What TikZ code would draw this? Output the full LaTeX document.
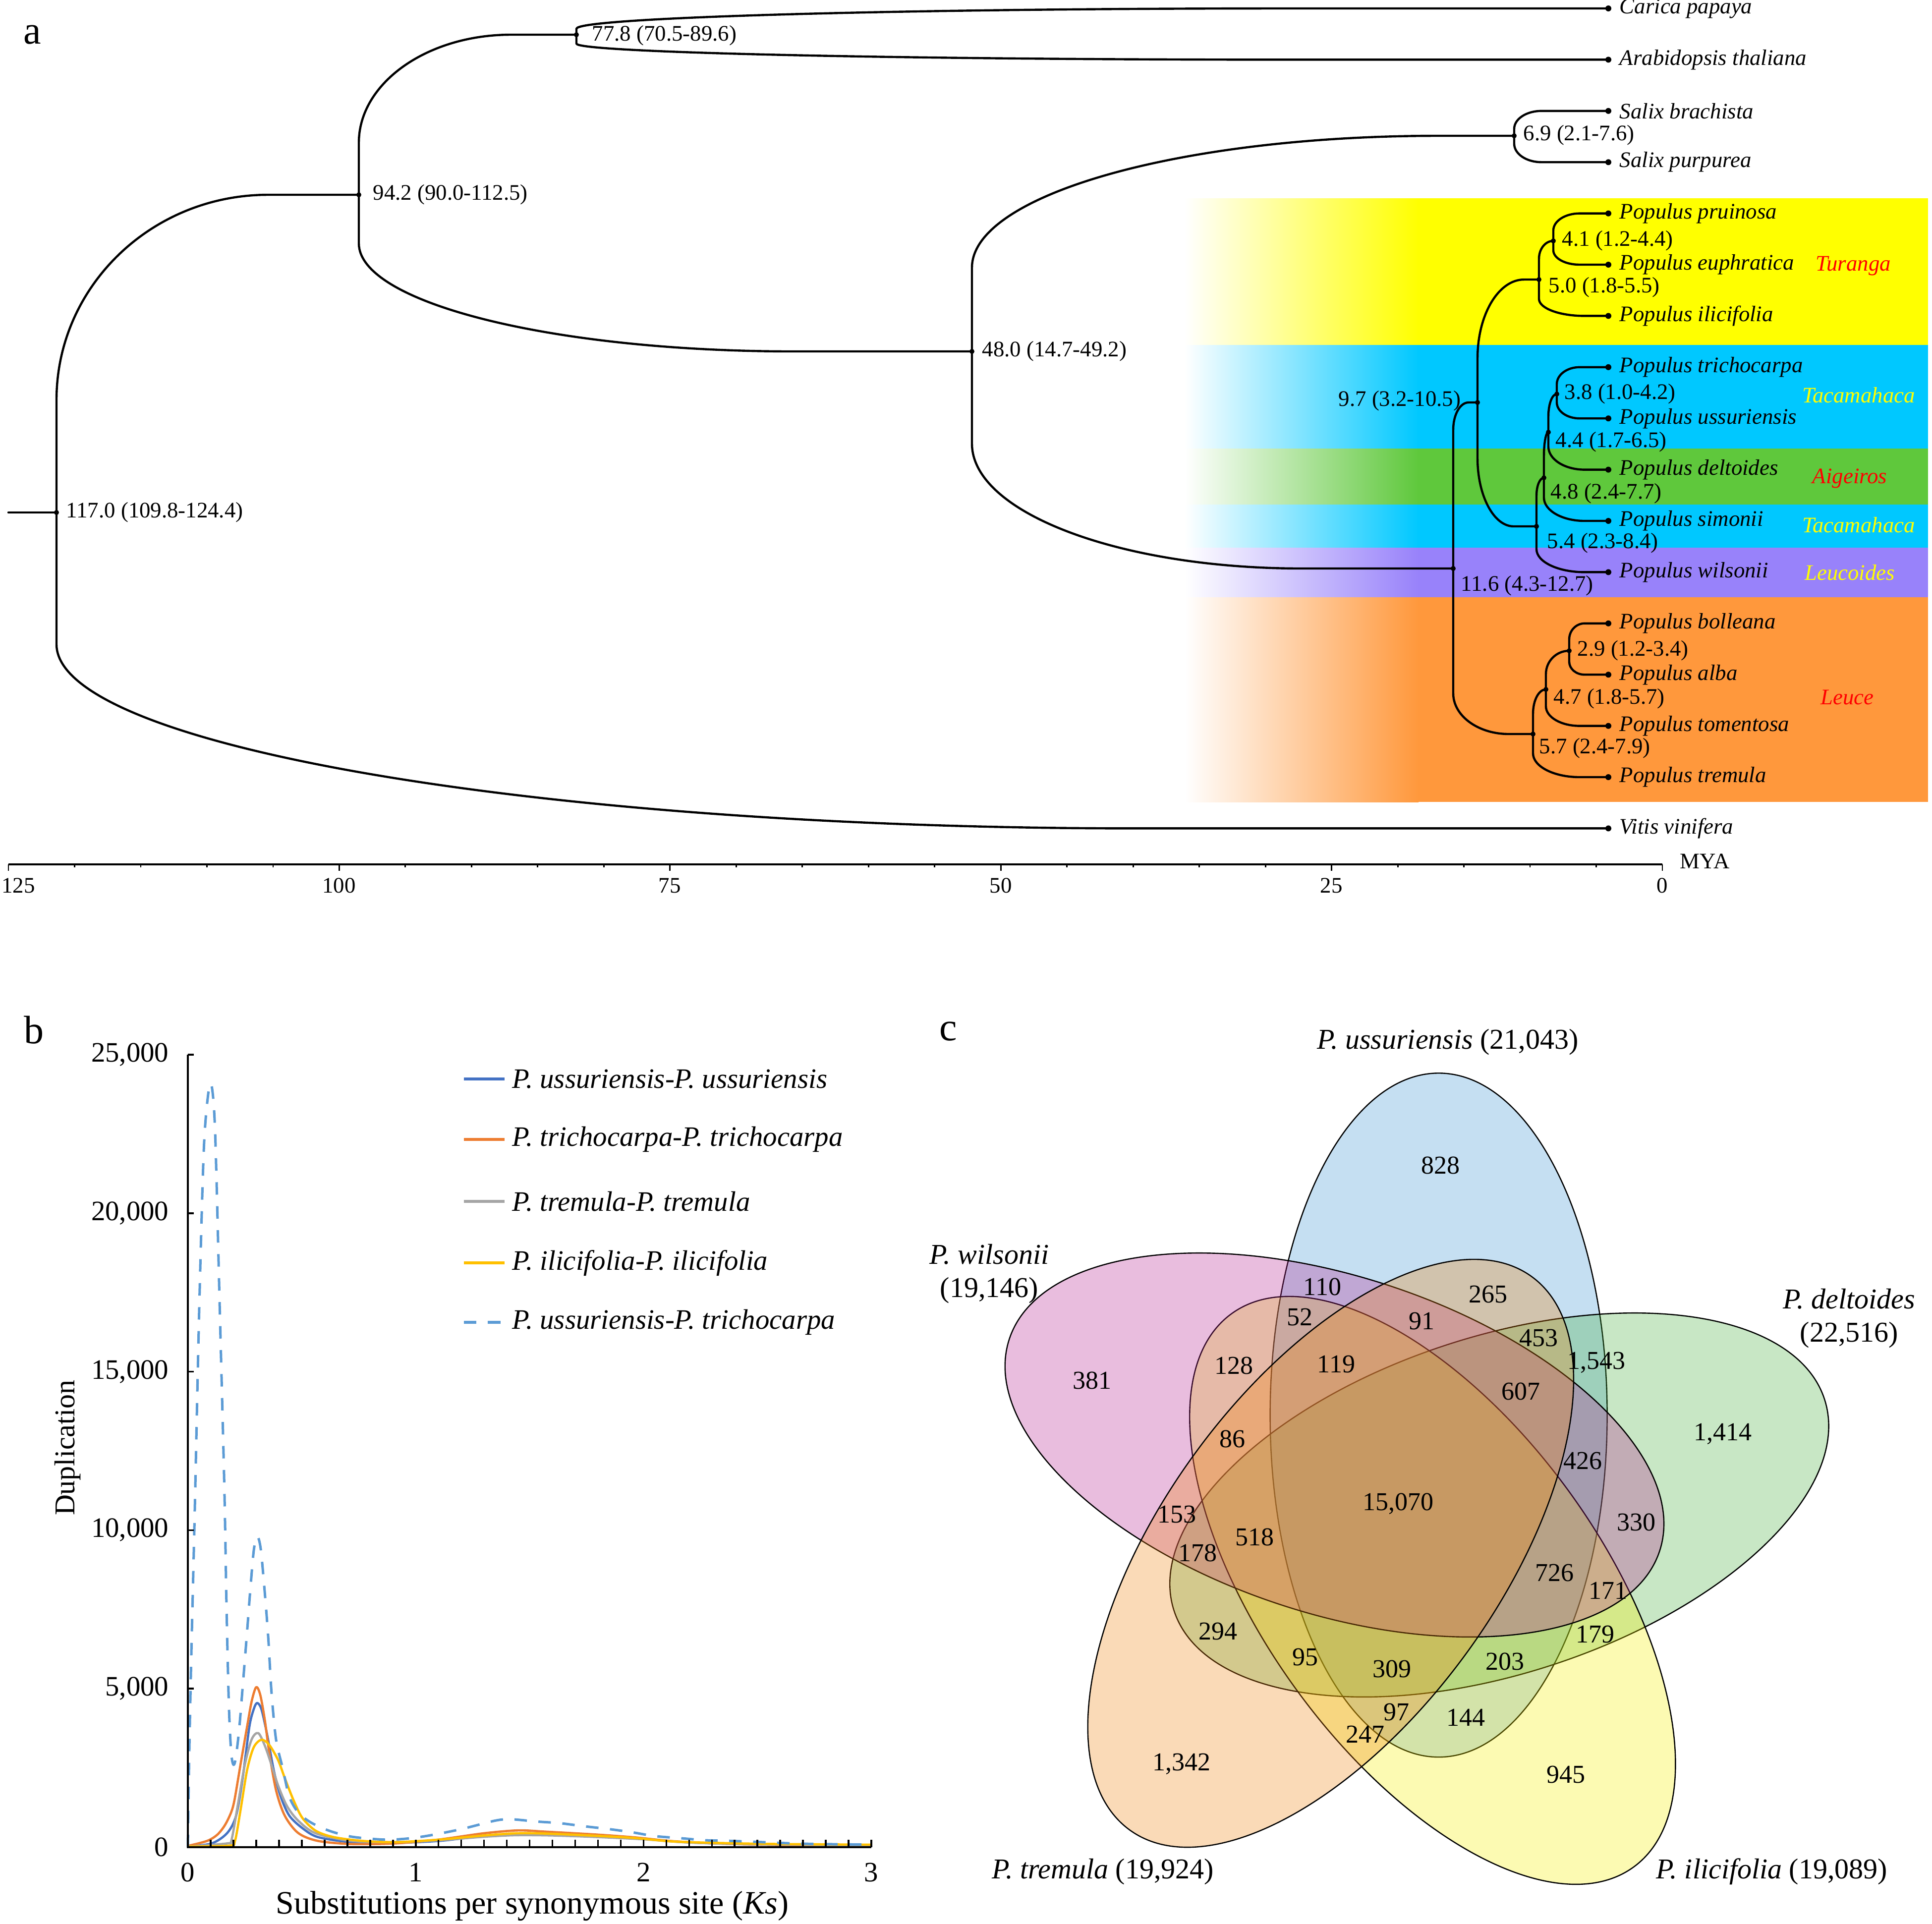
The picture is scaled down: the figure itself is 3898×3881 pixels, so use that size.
\documentclass[tikz,border=0pt]{standalone}
\usepackage{fontspec}
\setmainfont{Liberation Serif}
\usetikzlibrary{calc}
\definecolor{bandY}{RGB}{255,255,0}
\definecolor{bandB}{RGB}{0,200,255}
\definecolor{bandG}{RGB}{95,200,60}
\definecolor{bandP}{RGB}{152,130,250}
\definecolor{bandO}{RGB}{255,152,60}
\definecolor{xlBlue}{RGB}{68,114,196}
\definecolor{xlOrange}{RGB}{237,125,49}
\definecolor{xlGray}{RGB}{165,165,165}
\definecolor{xlGold}{RGB}{255,192,0}
\definecolor{xlLight}{RGB}{91,155,213}
\definecolor{vBlue}{RGB}{62,148,212}
\definecolor{vPink}{RGB}{182,38,145}
\definecolor{vGreen}{RGB}{72,175,62}
\definecolor{vYellow}{RGB}{245,238,0}
\definecolor{vOrange}{RGB}{238,132,15}
\definecolor{cladeRed}{RGB}{255,0,0}
\definecolor{cladeYel}{RGB}{255,255,0}
\newcommand\treebr[4]{%
  \draw[treeline] (#1) -- (#1 |- 0,#3)
    .. controls ($(#1 |- 0,#3)!0.552!(#1 |- #2)$) and ($(#4,0 |- #2)!0.552!(#1 |- #2)$)
    .. (#4,0 |- #2) -- (#2);}
\tikzset{
  treeline/.style={line width=1.1pt, line cap=round, line join=round},
  agelab/.style={anchor=west, inner sep=0pt, font=\fontsize{11.2}{13}\selectfont},
  tiplab/.style={anchor=west, inner sep=0pt, font=\fontsize{11.2}{13}\selectfont\itshape},
  cladelab/.style={inner sep=0pt, font=\fontsize{11.2}{13}\selectfont\itshape},
  ticklab/.style={inner sep=0pt, font=\fontsize{11.2}{13}\selectfont},
  panlab/.style={inner sep=0pt, font=\fontsize{20}{24}\selectfont},
  bnum/.style={inner sep=0pt, font=\fontsize{14.2}{17}\selectfont},
  legtxt/.style={anchor=west, inner sep=0pt, font=\fontsize{14.2}{16}\selectfont\itshape},
  vnum/.style={inner sep=0pt, font=\fontsize{13}{15}\selectfont},
  setlab/.style={inner sep=0pt, align=center, font=\fontsize{14.5}{16.75}\selectfont},
  vennset/.style={fill opacity=0.3, draw=black, line width=0.6pt},
  curve/.style={line width=1.15pt, line join=round, smooth, tension=0.5},
}
\begin{document}
\begin{tikzpicture}[x=0.25pt, y=-0.25pt]
\useasboundingbox (0,0) rectangle (3898,3881);
% ---------------- panel a : bands
\foreach \col/\ya/\yb in {bandY/400/696, bandB/696/905, bandG/905/1018, bandB/1018/1105, bandP/1105/1205, bandO/1205/1618} {
  \shade[left color=white, right color=\col] (2390,\ya) rectangle (2862,\yb);
  \fill[\col] (2860,\ya) rectangle (3890,\yb);
}
% ---------------- panel a : tree coordinates
\coordinate (rootin) at (17,1034);
\coordinate (root) at (114,1034);
\coordinate (n94) at (724,393);
\coordinate (n78) at (1163,70);
\coordinate (n48) at (1961,709);
\coordinate (n69) at (3055,274);
\coordinate (n116) at (2932,1147);
\coordinate (n97) at (2981,812);
\coordinate (n50) at (3105,564);
\coordinate (n41) at (3134,486);
\coordinate (n54) at (3100,1062);
\coordinate (n48b) at (3115,964);
\coordinate (n44) at (3124,872);
\coordinate (n38) at (3141,795);
\coordinate (n57) at (3093,1481);
\coordinate (n47) at (3119,1391);
\coordinate (n29) at (3166,1313);
\foreach \nm/\i in {tCar/0,tAra/1,tSbr/2,tSpu/3,tPpr/4,tPeu/5,tPil/6,tPtr/7,tPus/8,tPde/9,tPsi/10,tPwi/11,tPbo/12,tPal/13,tPto/14,tPtm/15,tVit/16}
  \coordinate (\nm) at (3245,{17+103.4*\i});
% branches
\draw[treeline] (rootin) -- (root);
\treebr{root}{n94}{807}{541}
\treebr{root}{tVit}{1300}{2290}
\treebr{n94}{n78}{288}{1031}
\treebr{n94}{n48}{491}{1600}
\treebr{n78}{tCar}{58}{2600}
\treebr{n78}{tAra}{88}{2600}
\treebr{n48}{n69}{540}{2900}
\treebr{n48}{n116}{895}{2626}
\treebr{n69}{tSbr}{260}{3110}
\treebr{n69}{tSpu}{290}{3110}
\treebr{n116}{n97}{867}{2963}
\treebr{n116}{n57}{1399}{3044}
\treebr{n97}{n50}{723}{3075}
\treebr{n97}{n54}{924}{3054}
\treebr{n50}{n41}{522}{3134}
\treebr{n50}{tPil}{603}{3197}
\treebr{n41}{tPpr}{465}{3187}
\treebr{n41}{tPeu}{505}{3187}
\treebr{n54}{n48b}{1000}{3115}
\treebr{n54}{tPwi}{1108}{3197}
\treebr{n48b}{n44}{920}{3124}
\treebr{n48b}{tPsi}{1004}{3197}
\treebr{n44}{n38}{840}{3141}
\treebr{n44}{tPde}{901}{3197}
\treebr{n38}{tPtr}{775}{3187}
\treebr{n38}{tPus}{812}{3187}
\treebr{n57}{n47}{1440}{3119}
\treebr{n57}{tPtm}{1520}{3187}
\treebr{n47}{n29}{1360}{3166}
\treebr{n47}{tPto}{1425}{3187}
\treebr{n29}{tPbo}{1290}{3197}
\treebr{n29}{tPal}{1335}{3197}
% dots
\foreach \nm in {root,n94,n78,n48,n69,n116,n97,n50,n41,n54,n48b,n44,n38,n57,n47,n29}
  \fill (\nm) circle[radius=5];
\foreach \nm in {tCar,tAra,tSbr,tSpu,tPpr,tPeu,tPil,tPtr,tPus,tPde,tPsi,tPwi,tPbo,tPal,tPto,tPtm,tVit}
  \fill (\nm) circle[radius=6];
% tip labels
\foreach \nm/\txt in {tCar/Carica papaya, tAra/Arabidopsis thaliana, tSbr/Salix brachista, tSpu/Salix purpurea, tPpr/Populus pruinosa, tPeu/Populus euphratica, tPil/Populus ilicifolia, tPtr/Populus trichocarpa, tPus/Populus ussuriensis, tPde/Populus deltoides, tPsi/Populus simonii, tPwi/Populus wilsonii, tPbo/Populus bolleana, tPal/Populus alba, tPto/Populus tomentosa, tPtm/Populus tremula, tVit/Vitis vinifera}
  \node[tiplab] (l\nm) at ([xshift=5.5pt]\nm) {\txt};
% age labels
\node[agelab] (a117) at (133,1034) {117.0 (109.8-124.4)};
\node[agelab] (a94) at (752,393) {94.2 (90.0-112.5)};
\node[agelab] (a78) at (1194,72) {77.8 (70.5-89.6)};
\node[agelab] (a48) at (1981,709) {48.0 (14.7-49.2)};
\node[agelab] (a69) at (3073,273) {6.9 (2.1-7.6)};
\node[agelab] (a41) at (3151,486) {4.1 (1.2-4.4)};
\node[agelab] (a50) at (3124,580) {5.0 (1.8-5.5)};
\node[agelab, anchor=east] (a97) at (2948,809) {9.7 (3.2-10.5)};
\node[agelab] (a38) at (3156,795) {3.8 (1.0-4.2)};
\node[agelab] (a44) at (3138,892) {4.4 (1.7-6.5)};
\node[agelab] (a48b) at (3128,996) {4.8 (2.4-7.7)};
\node[agelab] (a54) at (3121,1096) {5.4 (2.3-8.4)};
\node[agelab] (a116) at (2947,1182) {11.6 (4.3-12.7)};
\node[agelab] (a29) at (3182,1313) {2.9 (1.2-3.4)};
\node[agelab] (a47) at (3134,1410) {4.7 (1.8-5.7)};
\node[agelab] (a57) at (3105,1510) {5.7 (2.4-7.9)};
% clade labels
\node[cladelab, text=cladeRed] (cTur) at (3739,537) {Turanga};
\node[cladelab, text=cladeYel] (cTac1) at (3750,797) {Tacamahaca};
\node[cladelab, text=cladeRed] (cAig) at (3732,965) {Aigeiros};
\node[cladelab, text=cladeYel] (cTac2) at (3750,1059) {Tacamahaca};
\node[cladelab, text=cladeYel] (cLeu) at (3732,1155) {Leucoides};
\node[cladelab, text=cladeRed] (cLce) at (3727,1407) {Leuce};
% time axis
\draw[line width=1.2pt] (17,1744) -- (3354,1744);
\foreach \i in {0,...,25} {
  \pgfmathsetmacro\tx{17+133.48*\i}
  \pgfmathtruncatemacro\md{mod(\i,5)}
  \ifnum\md=0 \draw[line width=0.7pt] (\tx,1744) -- (\tx,1757); \else \draw[line width=0.7pt] (\tx,1744) -- (\tx,1750); \fi
}
\node[ticklab] (m125) at (37,1787) {125};
\node[ticklab] (m100) at (684,1787) {100};
\node[ticklab] (m75) at (1351,1787) {75};
\node[ticklab] (m50) at (2019,1787) {50};
\node[ticklab] (m25) at (2686,1787) {25};
\node[ticklab] (m0) at (3354,1787) {0};
\node[ticklab, anchor=west] (mya) at (3389,1738) {MYA};
\node[panlab] (pa) at (65,70) {a};
% ---------------- panel b
\node[panlab] (pb) at (69,2078) {b};
\begin{scope}[shift={(379,3727)}]
 \begin{scope}[x=114.925pt, y=15.99pt]
  \draw[curve, xlBlue] plot coordinates {(0,0.02) (0.105,0.12) (0.173,0.45) (0.212,1.0) (0.241,2.2) (0.27,3.8) (0.289,4.35) (0.304,4.55) (0.323,4.35) (0.348,3.55) (0.377,2.43) (0.406,1.63) (0.445,1.0) (0.503,0.6) (0.571,0.32) (0.717,0.16) (0.911,0.14) (1.105,0.2) (1.3,0.36) (1.445,0.42) (1.6,0.4) (1.8,0.34) (2.0,0.26) (2.2,0.15) (2.5,0.09) (3.0,0.05)};
  \draw[curve, xlOrange] plot coordinates {(0,0.04) (0.085,0.2) (0.13,0.4) (0.163,0.7) (0.19,1.1) (0.205,1.5) (0.231,2.6) (0.26,3.8) (0.28,4.6) (0.3,5.05) (0.318,4.8) (0.338,4.0) (0.357,3.0) (0.387,1.8) (0.425,1.0) (0.484,0.45) (0.57,0.2) (0.72,0.1) (0.91,0.12) (1.1,0.24) (1.3,0.44) (1.45,0.53) (1.57,0.49) (1.79,0.4) (1.96,0.31) (2.13,0.19) (2.35,0.11) (2.6,0.07) (3.0,0.05)};
  \draw[curve, xlGray] plot coordinates {(0,0.02) (0.173,0.12) (0.192,0.24) (0.221,1.4) (0.25,2.6) (0.28,3.4) (0.309,3.6) (0.338,3.2) (0.367,2.6) (0.396,1.95) (0.435,1.3) (0.484,0.84) (0.561,0.44) (0.717,0.2) (0.911,0.16) (1.1,0.22) (1.3,0.33) (1.445,0.38) (1.6,0.37) (1.8,0.32) (2.0,0.25) (2.2,0.15) (2.5,0.09) (3.0,0.06)};
  \draw[curve, xlGold] plot coordinates {(0,0.02) (0.183,0.05) (0.207,0.2) (0.231,1.16) (0.26,2.43) (0.289,3.15) (0.323,3.39) (0.357,3.23) (0.396,2.75) (0.425,2.19) (0.464,1.48) (0.503,0.92) (0.561,0.52) (0.639,0.32) (0.765,0.2) (0.911,0.16) (1.105,0.24) (1.3,0.37) (1.445,0.44) (1.57,0.43) (1.79,0.36) (1.96,0.29) (2.13,0.18) (2.35,0.13) (2.6,0.1) (3.0,0.08)};
  \draw[curve, xlLight, line width=1.25pt, dash pattern=on 6.3pt off 5.8pt] plot coordinates {(0,0) (0.005,2.5) (0.015,6) (0.03,10.5) (0.05,17) (0.07,22) (0.09,23.8) (0.105,24) (0.12,22.5) (0.14,17) (0.16,11.4) (0.17,7.5) (0.18,4.5) (0.19,3.0) (0.2,2.6) (0.21,2.8) (0.225,3.7) (0.24,5.0) (0.26,6.8) (0.275,8.2) (0.29,9.4) (0.305,9.8) (0.32,9.4) (0.338,8.0) (0.353,6.6) (0.367,4.9) (0.387,3.4) (0.416,2.5) (0.445,1.6) (0.484,1.1) (0.54,0.78) (0.62,0.52) (0.72,0.33) (0.86,0.24) (0.96,0.27) (1.06,0.37) (1.2,0.57) (1.35,0.84) (1.42,0.88) (1.53,0.81) (1.63,0.76) (1.74,0.66) (1.85,0.57) (1.95,0.47) (2.05,0.35) (2.17,0.28) (2.27,0.22) (2.38,0.2) (2.49,0.17) (2.7,0.11) (3.0,0.08)};
 \end{scope}
\end{scope}
% axes b
\draw[line width=0.9pt] (379,2128) -- (379,3727) -- (1758,3727);
\foreach \k in {1,...,5} \draw[line width=0.9pt] (379,{3727-319.8*\k}) -- (391,{3727-319.8*\k});
\foreach \k in {1,...,30} \draw[line width=0.9pt] ({379+45.97*\k},3727) -- ({379+45.97*\k},3712);
\foreach \v/\k in {0/0, {5,000}/1, {10,000}/2, {15,000}/3, {20,000}/4, {25,000}/5}
  \node[bnum, anchor=east] (yl\k) at (341,{3727-319.8*\k}) {\v};
\foreach \k in {0,1,2,3}
  \node[bnum] (xl\k) at ({379+459.7*\k},3778) {\k};
\node[inner sep=0pt, font=\fontsize{16.5}{19}\selectfont] (xlab) at (1074,3846) {Substitutions per synonymous site (\textit{Ks})};
\node[inner sep=0pt, rotate=90, font=\fontsize{14.5}{17}\selectfont] (ylab) at (137,2921) {Duplication};
% legend
\draw[xlBlue, line width=1.3pt] (936,2177) -- (1018,2177);
\draw[xlOrange, line width=1.3pt] (936,2299) -- (1018,2299);
\draw[xlGray, line width=1.3pt] (936,2424) -- (1018,2424);
\draw[xlGold, line width=1.3pt] (936,2548) -- (1018,2548);
\draw[xlLight, line width=1.3pt, dash pattern=on 6.3pt off 5.8pt] (936,2668) -- (1018,2668);
\node[legtxt] (lg1) at (1033,2177) {P. ussuriensis-P. ussuriensis};
\node[legtxt] (lg2) at (1033,2299) {P. trichocarpa-P. trichocarpa};
\node[legtxt] (lg3) at (1033,2424) {P. tremula-P. tremula};
\node[legtxt] (lg4) at (1033,2548) {P. ilicifolia-P. ilicifolia};
\node[legtxt] (lg5) at (1033,2668) {P. ussuriensis-P. trichocarpa};
% ---------------- panel c
\node[panlab] (pc) at (1913,2081) {c};
\foreach \col/\cx/\cy/\rot in {vBlue/2902.6/2855.2/90, vGreen/3024.9/3036.5/18, vYellow/2890.3/3208.8/126, vPink/2692.4/2915.5/162, vOrange/2684.8/3134.0/54}
  \filldraw[vennset, fill=\col, shift={(\cx,\cy)}, rotate=\rot] (0,0) ellipse [x radius=690, y radius=340];
\foreach \v/\px/\py [count=\n] in {828/2906/2351, 381/2203/2785, {1,414}/3476/2893, {1,342}/2384/3559, 945/3159/3580, 110/2668/2596, 265/3002/2611, 52/2622/2657, 91/2868/2665, 453/3104/2699, {1,543}/3221/2749, 128/2489/2755, 119/2696/2752, 607/3068/2807, 86/2486/2903, 426/3193/2947, {15,070}/2821/3034, 153/2374/3055, 330/3301/3071, 518/2531/3101, 178/2416/3133, 726/3136/3173, 171/3244/3209, 294/2457/3291, 179/3218/3297, 95/2633/3343, 309/2808/3367, 203/3036/3352, 97/2817/3454, 144/2957/3465, 247/2754/3499}
  \node[vnum] (v\n) at (\px,\py) {\v};
\node[setlab] (sUss) at (2921,2103) {\textit{P. ussuriensis} (21,043)};
\node[setlab] (sWil) at (1996,2570) {\textit{P. wilsonii}\\(19,146)};
\node[setlab] (sDel) at (3731,2660) {\textit{P. deltoides}\\(22,516)};
\node[setlab] (sTre) at (2225,3776) {\textit{P. tremula} (19,924)};
\node[setlab] (sIli) at (3575,3776) {\textit{P. ilicifolia} (19,089)};
\end{tikzpicture}
\end{document}
